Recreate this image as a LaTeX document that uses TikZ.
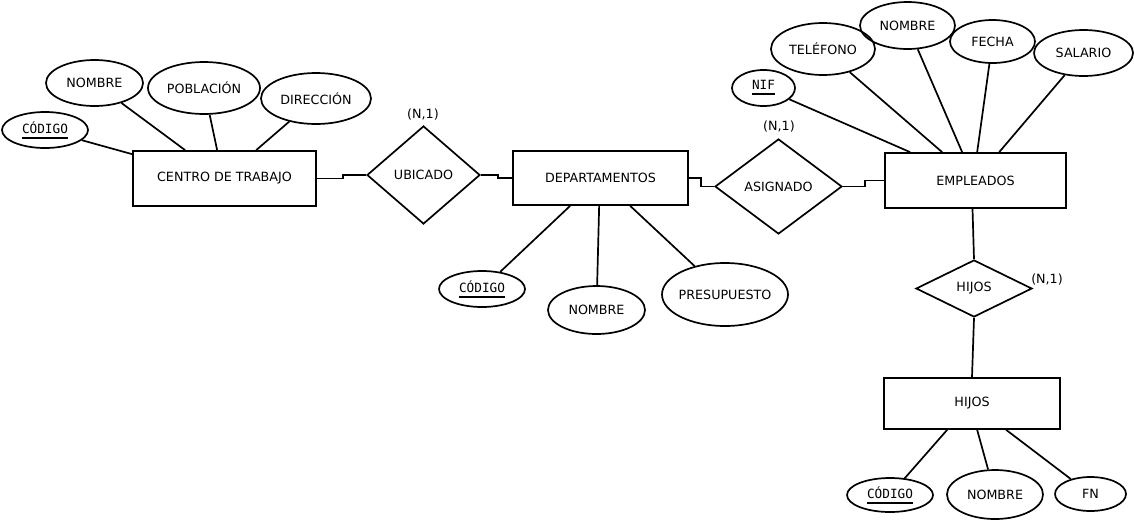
\documentclass[tikz,border=0pt]{standalone}
\usepackage{fontspec}
\setmainfont{DejaVu Sans}
\newfontfamily\monofam{DejaVu Sans Mono}
\usetikzlibrary{shapes.geometric,calc}
\newcommand\keyattr[1]{\setbox0\hbox{\monofam #1}\rlap{\rule[-5.3pt]{\wd0}{1.8pt}}\box0}
\newcommand\zb[1]{\makebox[0pt]{#1}}
\begin{document}
\begin{tikzpicture}[x=1pt,y=-1pt,
  every node/.style={font=\fontsize{12.7}{15}\selectfont},
  ent/.style={draw, line width=1.7pt, rectangle, inner sep=0},
  attr/.style={draw, line width=1.7pt, ellipse, inner sep=0},
  rel/.style={draw, line width=1.7pt, diamond, inner sep=0, aspect=1},
  lnk/.style={line width=1.7pt},
  card/.style={inner sep=0}]
\useasboundingbox[fill=white] (0,0) rectangle (1134,520);

% entities
\node[ent, minimum width=183pt, minimum height=55pt] (ctr) at (224.5,178.5) {CENTRO DE TRABAJO};
\node[ent, minimum width=175pt, minimum height=54pt] (dep) at (600.5,178) {DEPARTAMENTOS};
\node[ent, minimum width=181pt, minimum height=55pt] (emp) at (975.5,180.5) {EMPLEADOS};
\node[ent, minimum width=176pt, minimum height=51pt] (hjs) at (972,403.5) {HIJOS};

% relationships
\node[rel, minimum width=113pt, minimum height=98pt] (ubi) at (423.5,175) {\zb{UBICADO}};
\node[rel, minimum width=127pt, minimum height=95pt] (asi) at (778.5,186.5) {\zb{ASIGNADO}};
\node[rel, minimum width=116pt, minimum height=57pt] (hij) at (974,288.5) {\zb{HIJOS}};

% cardinalities
\node[card] (c1) at (423,115) {(N,1)};
\node[card] (c2) at (779,127) {(N,1)};
\node[card] (c3) at (1047,280) {(N,1)};

% attributes of CENTRO DE TRABAJO
\node[attr, minimum width=86pt, minimum height=36pt] (codA) at (45,130) {\zb{\keyattr{CÓDIGO}}};
\node[attr, minimum width=97pt, minimum height=46pt] (nomA) at (94.5,83) {\zb{NOMBRE}};
\node[attr, minimum width=112pt, minimum height=52pt] (pobA) at (204,88) {\zb{POBLACIÓN}};
\node[attr, minimum width=110pt, minimum height=51pt] (dirA) at (316,98.5) {\zb{DIRECCIÓN}};

% attributes of DEPARTAMENTOS
\node[attr, minimum width=86pt, minimum height=36pt] (codB) at (482,289) {\zb{\keyattr{CÓDIGO}}};
\node[attr, minimum width=97pt, minimum height=48pt] (nomB) at (596.5,310) {\zb{NOMBRE}};
\node[attr, minimum width=126pt, minimum height=63pt] (preB) at (725,294.5) {\zb{PRESUPUESTO}};

% attributes of EMPLEADOS
\node[attr, minimum width=63pt, minimum height=36pt] (nifE) at (763.5,88) {\zb{\keyattr{NIF}}};
\node[attr, minimum width=104pt, minimum height=52pt] (telE) at (823,49) {\zb{TELÉFONO}};
\node[attr, minimum width=95pt, minimum height=47pt] (nomE) at (907.5,25.5) {\zb{NOMBRE}};
\node[attr, minimum width=85pt, minimum height=43pt] (fecE) at (992.5,41.5) {\zb{FECHA}};
\node[attr, minimum width=99pt, minimum height=46pt] (salE) at (1083.5,53) {\zb{SALARIO}};

% attributes of HIJOS
\node[attr, minimum width=86pt, minimum height=34pt] (codC) at (890,495) {\zb{\keyattr{CÓDIGO}}};
\node[attr, minimum width=96pt, minimum height=49pt] (nomC) at (995,494.5) {\zb{NOMBRE}};
\node[attr, minimum width=71pt, minimum height=34pt] (fnC) at (1090.5,494) {\zb{FN}};

% relationship connectors
\draw[lnk] (ctr.east) -- ++(26,0) |- (ubi.west);
\draw[lnk] (ubi.east) -- ++(17,0) |- (dep.west);
\draw[lnk] (dep.east) -- ++(12,0) |- (asi.west);
\draw[lnk] (asi.east) -- ++(22,0) |- (emp.west);
\draw[lnk] ($(emp.south)+(-3,0)$) -- (hij.north);
\draw[lnk] (hij.south) -- (hjs.north);

% attribute connectors
\draw[lnk] (codA) -- ($(ctr.north west)+(0,4)$);
\draw[lnk] (nomA) -- ($(ctr.north west)+(53,0)$);
\draw[lnk] (pobA) -- ($(ctr.north west)+(85,0)$);
\draw[lnk] (dirA) -- ($(ctr.north west)+(124,0)$);

\draw[lnk] (codB) -- ($(dep.south west)+(58,0)$);
\draw[lnk] (nomB) -- ($(dep.south west)+(87,0)$);
\draw[lnk] (preB) -- ($(dep.south west)+(118,0)$);

\draw[lnk] (nifE) -- ($(emp.north west)+(26,0)$);
\draw[lnk] (telE) -- ($(emp.north west)+(58,0)$);
\draw[lnk] (nomE) -- ($(emp.north west)+(78,0)$);
\draw[lnk] (fecE) -- ($(emp.north west)+(93,0)$);
\draw[lnk] (salE) -- ($(emp.north west)+(115,0)$);

\draw[lnk] (codC) -- ($(hjs.south west)+(64,0)$);
\draw[lnk] (nomC) -- ($(hjs.south west)+(94,0)$);
\draw[lnk] (fnC) -- ($(hjs.south west)+(123,0)$);
\end{tikzpicture}
\end{document}
